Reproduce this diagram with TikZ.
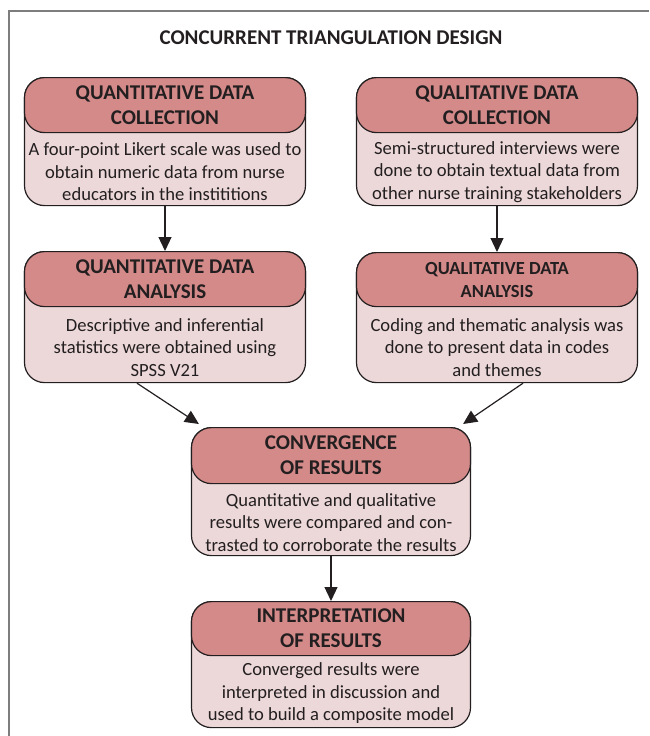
\documentclass[tikz,border=0pt]{standalone}
\usepackage{fontspec}
\setmainfont{Carlito}
\usetikzlibrary{
  arrows.meta,
  calc
}
\definecolor{headred}{RGB}{212,138,137}
\definecolor{bodypink}{RGB}{237,216,217}
\definecolor{inkgray}{RGB}{35,31,32}
\definecolor{framegray}{RGB}{125,125,125}

\begin{document}
\begin{tikzpicture}[
      x=1pt,y=-1pt,
      stagebox/.style={
         rectangle,
         rounded corners=20pt,
         draw=inkgray,
         line width=1.2pt,
         fill=bodypink,
         minimum width=281pt,
         inner sep=0pt,
         anchor=north
      },
      stagehead/.style={
         rectangle,
         rounded corners=20pt,
         draw=inkgray,
         line width=1.2pt,
         fill=headred,
         minimum width=281pt,
         minimum height=55pt,
         inner sep=0pt,
         anchor=north,
         align=center,
         text=inkgray,
         font=\fontsize{21}{25}\selectfont\bfseries
      },
      stagetext/.style={
         align=center,
         inner sep=0pt,
         text=inkgray,
         font=\fontsize{18.6}{22.5}\selectfont
      },
      flow/.style={-{Triangle[length=14pt,width=13pt]},line width=1.2pt,draw=inkgray},
    ]
    \useasboundingbox (0,0) rectangle (649,736);
    % frame, cut off on the right and at the bottom
    \draw[framegray,line width=2pt] (649,11) -| (9,736);
    \node (title) [text=inkgray,font=\fontsize{21}{24}\selectfont\bfseries] at (331,38) {CONCURRENT TRIANGULATION DESIGN};

    % quantitative strand
    \node (qc) [stagebox,minimum height=128pt] at (165,77) {};
    \node (qch) [stagehead] at (qc.north) {QUANTITATIVE DATA\\COLLECTION};
    \node (qct) [stagetext] at ($(qch.south)!0.5!(qc.south)+(0,2)$) {A four-point Likert scale was used to\\obtain numeric data from nurse\\educators in the instititions};

    \node (qa) [stagebox,minimum height=131pt] at (165,251) {};
    \node (qah) [stagehead] at (qa.north) {QUANTITATIVE DATA\\ANALYSIS};
    \node (qat) [stagetext] at ($(qah.south)!0.5!(qa.south)+(0,2)$) {Descriptive and inferential\\statistics were obtained using\\SPSS V21};

    % qualitative strand
    \node (lc) [stagebox,minimum height=128pt] at (497,77) {};
    \node (lch) [stagehead] at (lc.north) {QUALITATIVE DATA\\COLLECTION};
    \node (lct) [stagetext] at ($(lch.south)!0.5!(lc.south)+(0,2)$) {Semi-structured interviews were\\done to obtain textual data from\\other nurse training stakeholders};

    \node (la) [stagebox,minimum height=130pt] at (497,252) {};
    \node (lah) [stagehead,minimum height=54pt,font=\fontsize{18.5}{23}\selectfont\bfseries] at (la.north) {QUALITATIVE DATA\\ANALYSIS};
    \node (lat) [stagetext] at ($(lah.south)!0.5!(la.south)+(0,2)$) {Coding and thematic analysis was\\done to present data in codes\\and themes};

    % merged part
    \node (cv) [stagebox,minimum height=128pt,minimum width=279pt] at (331,427) {};
    \node (cvh) [stagehead,minimum width=279pt,minimum height=56pt] at (cv.north) {CONVERGENCE\\OF RESULTS};
    \node (cvt) [stagetext] at ($(cvh.south)!0.5!(cv.south)+(0,2)$) {Quantitative and qualitative\\results were compared and con-\\trasted to corroborate the results};

    \node (ip) [stagebox,minimum height=126pt,minimum width=279pt] at (331,601) {};
    \node (iph) [stagehead,minimum width=279pt,minimum height=54pt] at (ip.north) {INTERPRETATION\\OF RESULTS};
    \node (ipt) [stagetext] at ($(iph.south)!0.5!(ip.south)+(0,1)$) {Converged results were\\interpreted in discussion and\\used to build a composite model};

    \draw[flow] (qc.south) -- (qah.north);
    \draw[flow] (lc.south) -- (lah.north);
    \draw[flow] ([xshift=-28pt]qa.south) -- ([xshift=8pt,yshift=3pt]cvh.north west);
    \draw[flow] ([xshift=26pt]la.south) -- ([xshift=-8pt,yshift=3pt]cvh.north east);
    \draw[flow] (cv.south) -- (iph.north);
\end{tikzpicture}
\end{document}
